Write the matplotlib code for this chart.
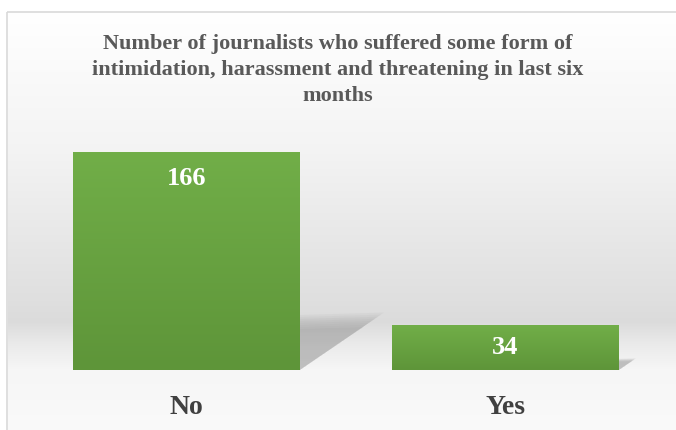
import matplotlib.pyplot as plt
import numpy as np
from matplotlib.patches import Polygon, Rectangle
from matplotlib.colors import LinearSegmentedColormap

categories = ['No', 'Yes']
counts = [166, 34]
title = ('Number of journalists who suffered some form of\n'
         'intimidation, harassment and threatening in last six\n'
         'months')

plt.rcParams['font.family'] = ['Liberation Serif', 'DejaVu Serif']

fig = plt.figure(figsize=(6.76, 4.30), dpi=100)

# background gradient behind everything
bg = fig.add_axes([0, 0, 1, 1], zorder=0)
bg.set_axis_off()
ys = np.array([0, 12, 150, 300, 322, 345, 370, 430]) / 430.0
gs = np.array([1.0, 1.0, 0.955, 0.875, 0.86, 0.92, 0.965, 0.98])
col = np.interp(np.linspace(0, 1, 430), ys, gs)
img = np.repeat(col[:, None], 2, axis=1)
bg.imshow(np.dstack([img, img, img]), aspect='auto', extent=[0, 1, 1, 0],
          interpolation='bilinear')
bg.imshow(np.ones((1, 1, 3)), aspect='auto', extent=[0, 7 / 676, 1, 0])
bg.imshow(np.ones((1, 1, 3)), aspect='auto', extent=[0, 1, 12 / 430, 0])
bg.set_xlim(0, 1)
bg.set_ylim(1, 0)
bg.add_patch(Rectangle((7 / 676, 12 / 430), 1, 1, fill=False,
                       edgecolor='#d9d9d9', lw=1.2))

ax = fig.add_axes([27 / 676, 60 / 430, 638 / 676, 236 / 430], zorder=1)
ax.patch.set_alpha(0)
x = np.arange(len(categories))
width = 0.71
bars = ax.bar(x, counts, width=width, color='#6aa843', zorder=3)

green = LinearSegmentedColormap.from_list('g', ['#5e9539', '#71ae48'])
grad = np.linspace(0, 1, 100)[:, None]
for b, v in zip(bars, counts):
    x0 = b.get_x()
    x1 = x0 + b.get_width()
    im = ax.imshow(grad, cmap=green, aspect='auto', origin='lower',
                   extent=[x0, x1, 0, v], zorder=3)
    im.set_clip_path(b)
    # soft perspective shadow to the right of the bar
    for k in range(8):
        s = 0.82 + 0.04 * k
        poly = Polygon([(x1, 0), (x1, 0.23 * v * s),
                        (x1 + 0.24 * v / 166 * s, 0.24 * v * s)],
                       closed=True, facecolor='#8c8c8c', edgecolor='none',
                       alpha=0.08, zorder=2)
        ax.add_patch(poly)
    ax.text(b.get_x() + b.get_width() / 2, v - 20 if v > 100 else v / 2,
            str(v), ha='center', va='center', color='white',
            fontsize=19, fontweight='bold', zorder=4)

ax.set_xlim(-0.5, 1.5)
ax.set_ylim(0, 180)
ax.set_yticks([])
ax.set_xticks(x)
ax.set_xticklabels(categories, fontsize=20, fontweight='bold', color='#404040')
ax.tick_params(axis='x', length=0, pad=18)
for s in ax.spines.values():
    s.set_visible(False)

fig.text(0.5, 1 - 70 / 430, title, ha='center', va='center', fontsize=16,
         fontweight='bold', color='#595959', linespacing=1.42, zorder=5)

fig.savefig('out.png', dpi=100)
